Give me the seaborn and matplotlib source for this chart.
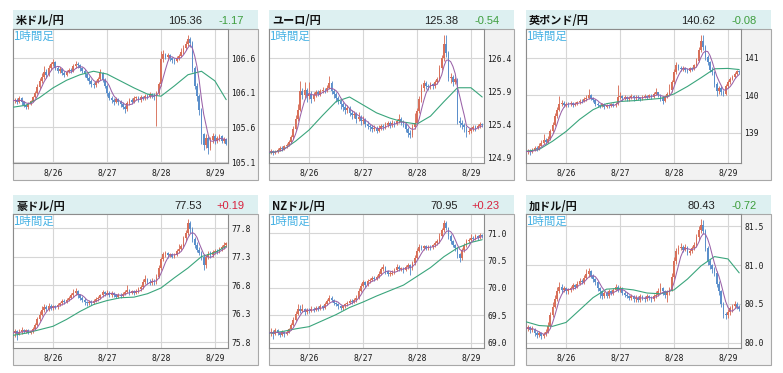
import numpy as np
import pandas as pd
import matplotlib
matplotlib.use("Agg")
import matplotlib.pyplot as plt
import seaborn as sns
from matplotlib.patches import Rectangle

# ---------------- data ----------------
HOURS = list(range(6, 102))          # hour index from 8/25 00:00 (price path: first value = open of first candle)
MA_HOURS = [6, 12, 18, 24, 30, 36, 42, 48, 54, 60, 66, 72, 78, 84, 90, 96, 101]
DAY_TICKS = [24, 48, 72, 96]
DAY_LABELS = ["8/26", "8/27", "8/28", "8/29"]

titles = ["米ドル/円", "ユーロ/円", "英ポンド/円", "豪ドル/円", "NZドル/円", "加ドル/円"]
prices = ["105.36", "125.38", "140.62", "77.53", "70.95", "80.43"]
changes = ["-1.17", "-0.54", "-0.08", "+0.19", "+0.23", "-0.72"]

usd_px = [105.98, 106.00, 105.97, 106.02, 105.96, 105.92, 105.89, 105.94, 105.98, 106.04, 106.10, 106.19,
          106.27, 106.33, 106.40, 106.36, 106.46, 106.51, 106.55, 106.46, 106.42, 106.44, 106.38, 106.36,
          106.40, 106.43, 106.41, 106.48, 106.52, 106.50, 106.45, 106.42, 106.37, 106.32, 106.27, 106.22,
          106.21, 106.26, 106.30, 106.38, 106.29, 106.20, 106.10, 106.03, 105.99, 105.97, 106.01, 105.96,
          105.94, 105.89, 105.86, 105.95, 106.00, 105.97, 106.02, 106.03, 105.99, 106.04, 106.02, 106.05,
          106.04, 106.08, 106.06, 106.04, 106.10, 106.22, 106.58, 106.66, 106.62, 106.64, 106.60, 106.57,
          106.56, 106.60, 106.63, 106.69, 106.75, 106.80, 106.88, 106.82, 106.45, 106.20, 106.05, 105.85,
          105.50, 105.35, 105.45, 105.30, 105.42, 105.48, 105.40, 105.44, 105.47, 105.41, 105.43, 105.36]
usd_hi = [106.03, 106.02, 106.05, 106.04, 105.98, 105.94, 105.96, 106.00, 106.06, 106.13, 106.22,
          106.31, 106.38, 106.48, 106.44, 106.50, 106.55, 106.58, 106.56, 106.49, 106.47, 106.46, 106.41,
          106.43, 106.46, 106.45, 106.51, 106.56, 106.54, 106.52, 106.47, 106.44, 106.39, 106.34, 106.30,
          106.26, 106.29, 106.33, 106.44, 106.40, 106.31, 106.22, 106.12, 106.05, 106.02, 106.04, 106.03,
          105.99, 105.96, 105.92, 105.98, 106.03, 106.02, 106.05, 106.06, 106.05, 106.07, 106.06, 106.08,
          106.08, 106.11, 106.10, 106.09, 106.13, 106.25, 106.70, 106.71, 106.68, 106.67, 106.66, 106.62,
          106.60, 106.63, 106.66, 106.74, 106.79, 106.85, 106.94, 106.91, 106.84, 106.48, 106.24, 106.08,
          105.88, 105.52, 105.50, 105.47, 105.46, 105.52, 105.50, 105.47, 105.51, 105.49, 105.46, 105.45]
usd_lo = [105.95, 105.94, 105.95, 105.93, 105.89, 105.86, 105.87, 105.92, 105.96, 106.02, 106.08,
          106.16, 106.24, 106.30, 106.32, 106.34, 106.43, 106.48, 106.43, 106.38, 106.39, 106.35, 106.33,
          106.34, 106.38, 106.38, 106.40, 106.46, 106.46, 106.42, 106.38, 106.33, 106.28, 106.23, 106.18,
          106.17, 106.19, 106.24, 106.28, 106.26, 106.17, 106.06, 105.99, 105.95, 105.93, 105.95, 105.92,
          105.90, 105.86, 105.81, 105.84, 105.93, 105.94, 105.95, 105.99, 105.96, 105.97, 105.99, 106.00,
          106.01, 106.02, 106.03, 106.00, 105.62, 106.07, 106.20, 106.55, 106.58, 106.58, 106.56, 106.53,
          106.52, 106.54, 106.57, 106.61, 106.66, 106.72, 106.77, 106.76, 106.40, 106.15, 105.98, 105.78,
          105.36, 105.28, 105.30, 105.22, 105.27, 105.38, 105.36, 105.37, 105.41, 105.38, 105.38, 105.34]
usd_ma = [105.89, 105.92, 106.03, 106.17, 106.28, 106.36, 106.41, 106.37, 106.27, 106.17, 106.08, 106.05,
          106.20, 106.36, 106.41, 106.27, 106.00]

eur_px = [124.97, 124.99, 124.96, 124.98, 125.01, 125.04, 125.02, 125.06, 125.09, 125.13, 125.20, 125.33,
          125.48, 125.62, 125.90, 125.84, 125.92, 125.82, 125.86, 125.78, 125.84, 125.88, 125.86, 125.90,
          125.92, 125.91, 125.95, 126.02, 125.90, 125.86, 125.80, 125.75, 125.70, 125.66, 125.62, 125.64,
          125.57, 125.53, 125.55, 125.48, 125.51, 125.44, 125.46, 125.40, 125.37, 125.35, 125.32, 125.34,
          125.30, 125.34, 125.37, 125.35, 125.39, 125.41, 125.38, 125.42, 125.40, 125.44, 125.47, 125.43,
          125.40, 125.33, 125.27, 125.24, 125.36, 125.42, 125.60, 125.78, 125.95, 126.02, 125.98, 125.96,
          126.00, 125.97, 126.03, 126.08, 126.25, 126.40, 126.62, 126.48, 126.10, 126.12, 126.04, 126.08,
          125.45, 125.42, 125.38, 125.35, 125.28, 125.30, 125.33, 125.36, 125.34, 125.37, 125.40, 125.38]
eur_hi = [125.02, 125.01, 125.00, 125.04, 125.07, 125.06, 125.09, 125.12, 125.16, 125.24, 125.37,
          125.54, 125.70, 126.05, 125.95, 126.04, 125.95, 126.03, 125.90, 125.88, 125.92, 125.91, 125.93,
          125.96, 125.95, 125.99, 126.13, 126.05, 125.93, 125.89, 125.83, 125.78, 125.74, 125.70, 125.69,
          125.67, 125.62, 125.60, 125.58, 125.58, 125.54, 125.52, 125.49, 125.44, 125.40, 125.38, 125.38,
          125.37, 125.38, 125.40, 125.40, 125.43, 125.45, 125.44, 125.46, 125.45, 125.48, 125.55, 125.50,
          125.46, 125.42, 125.36, 125.31, 125.40, 125.56, 125.65, 125.82, 126.00, 126.06, 126.05, 126.01,
          126.03, 126.02, 126.06, 126.12, 126.30, 126.45, 126.75, 126.75, 126.50, 126.18, 126.15, 126.12,
          126.10, 125.50, 125.46, 125.42, 125.37, 125.34, 125.36, 125.39, 125.39, 125.40, 125.43, 125.42]
eur_lo = [124.95, 124.93, 124.94, 124.96, 124.99, 124.99, 125.00, 125.04, 125.07, 125.11, 125.18,
          125.31, 125.45, 125.60, 125.78, 125.80, 125.74, 125.78, 125.72, 125.75, 125.81, 125.82, 125.83,
          125.87, 125.87, 125.89, 125.93, 125.86, 125.80, 125.74, 125.70, 125.63, 125.60, 125.55, 125.57,
          125.52, 125.47, 125.49, 125.42, 125.45, 125.38, 125.40, 125.35, 125.32, 125.30, 125.28, 125.29,
          125.27, 125.28, 125.31, 125.31, 125.33, 125.36, 125.34, 125.35, 125.36, 125.38, 125.41, 125.39,
          125.35, 125.28, 125.21, 125.19, 125.21, 125.33, 125.38, 125.56, 125.74, 125.90, 125.93, 125.92,
          125.93, 125.93, 125.95, 126.00, 126.05, 126.22, 126.36, 126.42, 126.05, 126.02, 125.98, 126.00,
          125.40, 125.36, 125.33, 125.28, 125.21, 125.25, 125.27, 125.30, 125.30, 125.32, 125.34, 125.35]
eur_ma = [124.96, 125.00, 125.14, 125.31, 125.53, 125.74, 125.81, 125.69, 125.57, 125.49, 125.43, 125.40,
          125.52, 125.74, 125.95, 125.95, 125.81]

gbp_px = [138.50, 138.52, 138.48, 138.55, 138.60, 138.58, 138.66, 138.72, 138.80, 138.76, 138.85, 139.05,
          139.22, 139.45, 139.62, 139.78, 139.80, 139.74, 139.78, 139.76, 139.80, 139.75, 139.78, 139.82,
          139.86, 139.84, 139.90, 139.93, 140.00, 139.92, 139.88, 139.78, 139.74, 139.72, 139.76, 139.70,
          139.74, 139.72, 139.76, 139.74, 139.78, 139.95, 139.98, 139.92, 139.95, 139.90, 139.94, 139.98,
          139.92, 139.96, 139.94, 139.90, 139.96, 139.99, 139.95, 140.00, 139.96, 140.04, 140.08, 140.00,
          139.92, 139.86, 139.95, 140.05, 140.15, 140.35, 140.62, 140.80, 140.74, 140.70, 140.72, 140.68,
          140.66, 140.72, 140.70, 140.80, 140.92, 141.20, 141.45, 141.30, 141.02, 140.88, 140.68, 140.62,
          140.30, 140.12, 140.20, 140.08, 140.05, 140.25, 140.35, 140.45, 140.50, 140.58, 140.64, 140.62]
gbp_hi = [138.58, 138.56, 138.60, 138.66, 138.66, 138.72, 138.80, 138.96, 138.86, 138.92, 139.10,
          139.30, 139.52, 139.70, 139.98, 139.88, 139.84, 139.83, 139.82, 139.85, 139.83, 139.83, 139.86,
          139.90, 139.90, 139.95, 140.00, 140.17, 140.05, 139.96, 139.90, 139.82, 139.78, 139.80, 139.79,
          139.78, 139.78, 139.80, 139.80, 139.82, 140.29, 140.08, 140.02, 140.00, 139.98, 139.99, 140.03,
          140.00, 140.00, 140.00, 139.97, 140.01, 140.04, 140.02, 140.05, 140.03, 140.10, 140.20, 140.10,
          140.03, 139.96, 140.00, 140.10, 140.30, 140.42, 140.70, 140.88, 140.84, 140.78, 140.78, 140.76,
          140.72, 140.76, 140.76, 140.85, 141.00, 141.28, 141.62, 141.62, 141.35, 141.08, 140.92, 140.75,
          140.66, 140.35, 140.26, 140.24, 140.15, 140.30, 140.40, 140.50, 140.55, 140.62, 140.68, 140.68]
gbp_lo = [138.44, 138.42, 138.46, 138.52, 138.53, 138.55, 138.64, 138.70, 138.70, 138.74, 138.82,
          139.00, 139.18, 139.40, 139.58, 139.72, 139.68, 139.70, 139.70, 139.72, 139.70, 139.72, 139.75,
          139.78, 139.80, 139.82, 139.86, 139.90, 139.88, 139.82, 139.72, 139.68, 139.66, 139.68, 139.65,
          139.66, 139.66, 139.68, 139.69, 139.70, 139.74, 139.90, 139.86, 139.88, 139.85, 139.86, 139.90,
          139.86, 139.88, 139.88, 139.85, 139.88, 139.92, 139.90, 139.92, 139.91, 139.94, 140.00, 139.95,
          139.86, 139.76, 139.82, 139.92, 140.00, 140.10, 140.30, 140.58, 140.68, 140.64, 140.65, 140.62,
          140.60, 140.63, 140.65, 140.68, 140.76, 140.88, 141.15, 141.22, 140.95, 140.80, 140.62, 140.55,
          140.22, 139.98, 140.05, 140.00, 139.98, 140.02, 140.20, 140.30, 140.40, 140.46, 140.54, 140.58]
gbp_ma = [138.51, 138.56, 138.78, 139.04, 139.36, 139.62, 139.78, 139.84, 139.86, 139.89, 139.92, 140.04,
          140.24, 140.47, 140.71, 140.72, 140.69]

aud_px = [75.96, 75.99, 75.95, 75.98, 76.02, 75.99, 76.01, 75.97, 75.99, 76.03, 76.10, 76.20,
          76.28, 76.36, 76.42, 76.38, 76.44, 76.40, 76.43, 76.41, 76.46, 76.48, 76.52, 76.50,
          76.54, 76.58, 76.62, 76.66, 76.70, 76.62, 76.58, 76.54, 76.50, 76.48, 76.51, 76.49,
          76.53, 76.56, 76.58, 76.62, 76.68, 76.65, 76.67, 76.63, 76.66, 76.62, 76.60, 76.63,
          76.61, 76.65, 76.68, 76.72, 76.67, 76.69, 76.66, 76.70, 76.73, 76.76, 76.85, 76.90,
          76.86, 76.84, 76.88, 76.85, 76.95, 77.10, 77.25, 77.34, 77.36, 77.32, 77.34, 77.30,
          77.33, 77.40, 77.44, 77.48, 77.62, 77.72, 77.88, 77.78, 77.60, 77.50, 77.42, 77.36,
          77.30, 77.15, 77.30, 77.35, 77.33, 77.38, 77.40, 77.38, 77.43, 77.46, 77.50, 77.53]
aud_hi = [76.04, 76.02, 76.03, 76.06, 76.04, 76.04, 76.03, 76.02, 76.06, 76.14, 76.25,
          76.34, 76.44, 76.47, 76.46, 76.48, 76.47, 76.46, 76.46, 76.49, 76.51, 76.55, 76.55,
          76.57, 76.61, 76.66, 76.74, 76.75, 76.72, 76.65, 76.61, 76.57, 76.53, 76.54, 76.54,
          76.56, 76.59, 76.61, 76.65, 76.72, 76.70, 76.71, 76.69, 76.69, 76.68, 76.65, 76.66,
          76.66, 76.68, 76.72, 76.81, 76.74, 76.72, 76.71, 76.73, 76.76, 76.80, 76.90, 76.98,
          76.93, 76.90, 76.92, 76.91, 77.00, 77.15, 77.30, 77.38, 77.40, 77.38, 77.37, 77.36,
          77.36, 77.44, 77.52, 77.52, 77.66, 77.77, 77.95, 77.92, 77.82, 77.64, 77.56, 77.46,
          77.40, 77.33, 77.33, 77.40, 77.39, 77.42, 77.43, 77.43, 77.47, 77.50, 77.55, 77.56]
aud_lo = [75.90, 75.84, 75.92, 75.95, 75.96, 75.96, 75.94, 75.94, 75.97, 76.01, 76.08,
          76.18, 76.26, 76.33, 76.34, 76.35, 76.36, 76.37, 76.38, 76.39, 76.43, 76.45, 76.47,
          76.48, 76.52, 76.56, 76.60, 76.63, 76.58, 76.54, 76.50, 76.46, 76.44, 76.45, 76.46,
          76.47, 76.50, 76.53, 76.56, 76.60, 76.61, 76.62, 76.60, 76.60, 76.59, 76.57, 76.58,
          76.58, 76.59, 76.62, 76.66, 76.63, 76.64, 76.62, 76.64, 76.67, 76.70, 76.74, 76.82,
          76.82, 76.80, 76.81, 76.80, 76.82, 76.92, 77.07, 77.22, 77.30, 77.28, 77.29, 77.27,
          77.27, 77.31, 77.37, 77.41, 77.45, 77.58, 77.68, 77.72, 77.56, 77.45, 77.38, 77.32,
          77.24, 77.07, 77.10, 77.26, 77.28, 77.30, 77.34, 77.34, 77.36, 77.40, 77.44, 77.47]
aud_ma = [75.92, 75.96, 76.02, 76.08, 76.20, 76.34, 76.46, 76.53, 76.58, 76.59, 76.65, 76.75,
          76.93, 77.10, 77.30, 77.37, 77.48]

nzd_px = [69.17, 69.20, 69.15, 69.22, 69.18, 69.14, 69.19, 69.16, 69.20, 69.24, 69.32, 69.42,
          69.52, 69.62, 69.58, 69.62, 69.56, 69.60, 69.58, 69.62, 69.60, 69.64, 69.62, 69.66,
          69.64, 69.70, 69.76, 69.82, 69.78, 69.72, 69.70, 69.66, 69.63, 69.66, 69.70, 69.73,
          69.76, 69.74, 69.78, 69.82, 69.95, 70.04, 70.10, 70.06, 70.12, 70.14, 70.18, 70.16,
          70.20, 70.26, 70.34, 70.38, 70.30, 70.25, 70.26, 70.28, 70.32, 70.38, 70.34, 70.36,
          70.32, 70.38, 70.42, 70.36, 70.45, 70.55, 70.68, 70.75, 70.73, 70.76, 70.72, 70.75,
          70.74, 70.78, 70.82, 70.85, 70.95, 71.05, 71.18, 71.10, 70.95, 70.85, 70.78, 70.72,
          70.62, 70.55, 70.70, 70.78, 70.85, 70.88, 70.92, 70.90, 70.94, 70.92, 70.97, 70.95]
nzd_hi = [69.26, 69.22, 69.26, 69.24, 69.20, 69.22, 69.21, 69.23, 69.27, 69.36, 69.47,
          69.58, 69.70, 69.68, 69.70, 69.64, 69.64, 69.63, 69.66, 69.65, 69.67, 69.67, 69.70,
          69.69, 69.74, 69.80, 69.87, 69.85, 69.80, 69.75, 69.72, 69.68, 69.69, 69.73, 69.76,
          69.79, 69.79, 69.81, 69.86, 70.00, 70.09, 70.14, 70.13, 70.16, 70.18, 70.22, 70.21,
          70.24, 70.30, 70.38, 70.44, 70.40, 70.33, 70.30, 70.32, 70.36, 70.44, 70.41, 70.39,
          70.38, 70.42, 70.46, 70.44, 70.49, 70.60, 70.73, 70.80, 70.78, 70.79, 70.78, 70.78,
          70.78, 70.81, 70.86, 70.89, 71.00, 71.10, 71.24, 71.22, 71.12, 70.98, 70.88, 70.80,
          70.75, 70.64, 70.73, 70.82, 70.89, 70.92, 70.98, 70.95, 70.98, 70.97, 71.00, 70.99]
nzd_lo = [69.12, 69.06, 69.13, 69.14, 69.10, 69.12, 69.11, 69.13, 69.17, 69.22, 69.30,
          69.40, 69.50, 69.54, 69.55, 69.50, 69.53, 69.54, 69.55, 69.56, 69.58, 69.58, 69.60,
          69.60, 69.62, 69.68, 69.74, 69.74, 69.68, 69.66, 69.62, 69.60, 69.60, 69.64, 69.67,
          69.70, 69.70, 69.72, 69.75, 69.80, 69.92, 70.01, 70.02, 70.04, 70.09, 70.12, 70.12,
          70.14, 70.18, 70.24, 70.31, 70.26, 70.21, 70.21, 70.23, 70.26, 70.30, 70.30, 70.30,
          70.28, 70.30, 70.35, 70.24, 70.33, 70.42, 70.52, 70.65, 70.69, 70.70, 70.69, 70.69,
          70.70, 70.71, 70.75, 70.79, 70.82, 70.92, 71.02, 71.05, 70.90, 70.80, 70.74, 70.68,
          70.55, 70.48, 70.50, 70.66, 70.75, 70.82, 70.85, 70.86, 70.87, 70.88, 70.90, 70.92]
nzd_ma = [69.17, 69.20, 69.25, 69.29, 69.40, 69.51, 69.64, 69.74, 69.85, 69.95, 70.05, 70.21,
          70.37, 70.57, 70.73, 70.83, 70.88]

cad_px = [80.18, 80.20, 80.16, 80.18, 80.13, 80.10, 80.12, 80.08, 80.11, 80.14, 80.22, 80.35,
          80.46, 80.56, 80.66, 80.72, 80.68, 80.70, 80.66, 80.68, 80.70, 80.74, 80.72, 80.76,
          80.80, 80.78, 80.84, 80.88, 80.92, 80.86, 80.82, 80.78, 80.70, 80.66, 80.60, 80.64,
          80.60, 80.66, 80.64, 80.68, 80.72, 80.68, 80.70, 80.64, 80.62, 80.60, 80.58, 80.60,
          80.56, 80.58, 80.55, 80.60, 80.58, 80.56, 80.60, 80.58, 80.56, 80.60, 80.62, 80.66,
          80.70, 80.66, 80.62, 80.65, 80.68, 80.85, 81.05, 81.18, 81.22, 81.24, 81.20, 81.24,
          81.16, 81.18, 81.22, 81.26, 81.36, 81.45, 81.52, 81.44, 81.22, 81.05, 81.00, 80.95,
          80.90, 80.76, 80.66, 80.50, 80.37, 80.35, 80.40, 80.44, 80.47, 80.50, 80.46, 80.43]
cad_hi = [80.23, 80.22, 80.21, 80.19, 80.15, 80.15, 80.14, 80.14, 80.17, 80.26, 80.40,
          80.52, 80.62, 80.72, 80.78, 80.75, 80.73, 80.72, 80.71, 80.73, 80.77, 80.76, 80.79,
          80.83, 80.82, 80.87, 80.95, 80.96, 80.94, 80.88, 80.84, 80.80, 80.72, 80.68, 80.67,
          80.66, 80.69, 80.68, 80.71, 80.76, 80.74, 80.73, 80.72, 80.67, 80.65, 80.62, 80.63,
          80.62, 80.61, 80.60, 80.63, 80.62, 80.60, 80.63, 80.62, 80.60, 80.63, 80.66, 80.70,
          80.77, 80.72, 80.68, 80.68, 80.72, 80.90, 81.10, 81.22, 81.26, 81.28, 81.26, 81.27,
          81.25, 81.21, 81.25, 81.30, 81.40, 81.50, 81.59, 81.58, 81.47, 81.25, 81.08, 81.02,
          80.98, 80.92, 80.79, 80.68, 80.52, 80.40, 80.43, 80.47, 80.50, 80.54, 80.52, 80.49]
cad_lo = [80.15, 80.13, 80.14, 80.08, 80.06, 80.07, 80.04, 80.06, 80.09, 80.12, 80.20,
          80.33, 80.44, 80.54, 80.64, 80.64, 80.65, 80.63, 80.63, 80.65, 80.68, 80.69, 80.70,
          80.74, 80.75, 80.76, 80.82, 80.85, 80.83, 80.78, 80.74, 80.66, 80.58, 80.56, 80.58,
          80.57, 80.58, 80.61, 80.62, 80.66, 80.65, 80.65, 80.61, 80.59, 80.57, 80.55, 80.55,
          80.52, 80.53, 80.52, 80.53, 80.55, 80.53, 80.54, 80.55, 80.52, 80.54, 80.58, 80.60,
          80.64, 80.62, 80.58, 80.52, 80.62, 80.66, 80.82, 81.02, 81.15, 81.19, 81.17, 81.18,
          81.13, 81.13, 81.16, 81.20, 81.24, 81.33, 81.42, 81.40, 81.18, 81.00, 80.95, 80.90,
          80.86, 80.72, 80.62, 80.46, 80.32, 80.30, 80.32, 80.36, 80.40, 80.44, 80.43, 80.41]
cad_ma = [80.27, 80.22, 80.21, 80.26, 80.42, 80.58, 80.69, 80.70, 80.68, 80.64, 80.63, 80.68,
          80.82, 80.99, 81.11, 81.08, 80.90]

yticks = [[105.1, 105.6, 106.1, 106.6], [124.9, 125.4, 125.9, 126.4], [139, 140, 141],
          [75.8, 76.3, 76.8, 77.3, 77.8], [69.0, 69.5, 70.0, 70.5, 71.0], [80.0, 80.5, 81.0, 81.5]]
ylabels = [["105.1", "105.6", "106.1", "106.6"], ["124.9", "125.4", "125.9", "126.4"], ["139", "140", "141"],
           ["75.8", "76.3", "76.8", "77.3", "77.8"], ["69.0", "69.5", "70.0", "70.5", "71.0"],
           ["80.0", "80.5", "81.0", "81.5"]]
ylims = [(105.086, 107.02), (124.81, 126.84), (138.2, 141.77), (75.70, 78.045), (68.9, 71.35), (79.93, 81.66)]

paths = [usd_px, eur_px, gbp_px, aud_px, nzd_px, cad_px]
highs = [usd_hi, eur_hi, gbp_hi, aud_hi, nzd_hi, cad_hi]
lows = [usd_lo, eur_lo, gbp_lo, aud_lo, nzd_lo, cad_lo]
mas = [usd_ma, eur_ma, gbp_ma, aud_ma, nzd_ma, cad_ma]

# ---------------- style ----------------
sns.set_theme(style="white")
plt.rcParams['font.family'] = ['Noto Sans CJK JP', 'DejaVu Sans']

RED = "#D8705A"
BLUE = "#5B8FCB"
PURPLE = "#9A62A8"
GREEN = "#3AA57C"
HEADER = "#DDF0F1"
BODY = "#F2F2F2"

W, H = 783, 373
fig = plt.figure(figsize=(W / 100, H / 100), dpi=100)
fig.patch.set_facecolor("white")


def fx(x):
    return x / W


def fy(y):
    return 1 - y / H


col_left = [13, 269, 526]
row_top = [10, 195]
PW, HH, PLW, PLH, BH = 245, 19, 215, 134, 151

for i in range(6):
    r, c = divmod(i, 3)
    L, T = col_left[c], row_top[r]
    fig.add_artist(Rectangle((fx(L), fy(T + HH)), PW / W, HH / H, transform=fig.transFigure,
                             facecolor=HEADER, edgecolor="none", zorder=0))
    fig.add_artist(Rectangle((fx(L), fy(T + HH + BH)), PW / W, BH / H, transform=fig.transFigure,
                             facecolor=BODY, edgecolor="#A8A8A8", lw=0.8, zorder=0))

    ax = fig.add_axes([fx(L), fy(T + HH + PLH), PLW / W, PLH / H])
    ax.set_facecolor("white")

    px = np.array(paths[i], dtype=float)
    n = min(len(px) - 1, len(highs[i]), len(lows[i]))
    o = px[:n]
    cl = px[1:n + 1]
    xs = np.array(HOURS[1:n + 1], dtype=float)
    hi = np.maximum(np.array(highs[i][:n]), np.maximum(o, cl))
    lo = np.minimum(np.array(lows[i][:n]), np.minimum(o, cl))
    cols = np.where(cl >= o, RED, BLUE)
    span = ylims[i][1] - ylims[i][0]
    ax.vlines(xs, lo, hi, colors=cols, lw=0.65, zorder=3)
    ax.bar(xs, np.maximum(np.abs(cl - o), span * 0.006), bottom=np.minimum(o, cl), width=0.8,
           color=cols, linewidth=0, zorder=3)

    ma_df = pd.DataFrame({"h": MA_HOURS[:len(mas[i])], "v": mas[i]})
    sns.lineplot(data=ma_df, x="h", y="v", ax=ax, color=GREEN, lw=0.8, zorder=4)
    short_df = pd.DataFrame({"h": HOURS[:len(px)], "v": pd.Series(px).rolling(5, min_periods=1).mean()})
    sns.lineplot(data=short_df, x="h", y="v", ax=ax, color=PURPLE, lw=0.75, zorder=5)

    ax.set_xlim(6.2, 101.8)
    ax.set_ylim(*ylims[i])
    ax.set_xlabel("")
    ax.set_ylabel("")
    ax.set_xticks(DAY_TICKS)
    ax.set_xticklabels(DAY_LABELS)
    ax.set_yticks(yticks[i])
    ax.set_yticklabels(ylabels[i])
    ax.yaxis.tick_right()
    ax.tick_params(axis="both", length=0, labelsize=5.8, colors="#1A1A1A")
    ax.tick_params(axis="y", pad=2.2)
    ax.tick_params(axis="x", pad=4.2)
    for lab in ax.get_xticklabels() + ax.get_yticklabels():
        lab.set_family("DejaVu Sans Mono")
    ax.grid(True, color="#D6D6D6", lw=0.8, zorder=0)
    ax.set_axisbelow(True)
    for s in ax.spines.values():
        s.set_color("#8C8C8C")
        s.set_linewidth(0.8)

    ax.text(0.0, 0.995, "1時間足", transform=ax.transAxes, ha="left", va="top",
            fontsize=8.3, color="#47B2E4", zorder=6)

    fig.text(fx(L + 3), fy(T + 11), titles[i], ha="left", va="center", fontsize=8,
             fontweight="bold", color="#111111")
    fig.text(fx(L + 189), fy(T + 11), prices[i], ha="right", va="center", fontsize=8,
             family=["Liberation Sans", "DejaVu Sans"], color="#222222")
    chg_col = "#D8233E" if changes[i].startswith("+") else "#3E9E3E"
    fig.text(fx(L + 231), fy(T + 11), changes[i], ha="right", va="center", fontsize=8,
             family=["Liberation Sans", "DejaVu Sans"], color=chg_col)

fig.savefig("out.png", dpi=100, facecolor="white")
